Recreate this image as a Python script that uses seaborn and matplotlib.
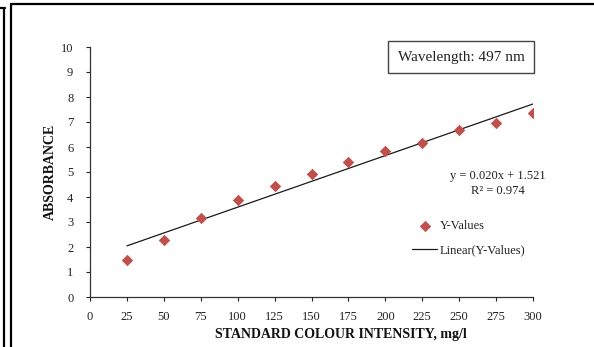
import numpy as np
import pandas as pd
import seaborn as sns
import matplotlib
matplotlib.use("Agg")
import matplotlib.pyplot as plt
from matplotlib.lines import Line2D

# Data
intensity = [25, 50, 75, 100, 125, 150, 175, 200, 225, 250, 275, 300]
absorbance = [1.48, 2.28, 3.15, 3.90, 4.45, 4.92, 5.39, 5.85, 6.17, 6.69, 6.97, 7.35]
x_ticks = [0, 25, 50, 75, 100, 125, 150, 175, 200, 225, 250, 275, 300]
y_ticks = list(range(0, 11))

df = pd.DataFrame({"x": intensity, "y": absorbance})

sns.set_theme(style="white")
plt.rcParams["font.family"] = ["Liberation Serif", "DejaVu Serif"]

W, H = 594, 347
fig = plt.figure(figsize=(W / 100, H / 100), dpi=100)
ax = fig.add_axes([90 / W, 1 - 297 / H, (533 - 90) / W, (297 - 47) / H])

sns.scatterplot(data=df, x="x", y="y", marker="D", s=34, color="#C0504D",
                edgecolor="#C0504D", linewidth=0, ax=ax, label="Y-Values", zorder=3)
sns.regplot(data=df, x="x", y="y", scatter=False, ci=None, ax=ax,
            line_kws={"color": "#1a1a1a", "linewidth": 0.9},
            label="Linear(Y-Values)")

ax.set_xlim(0, 300)
ax.set_ylim(0, 10)
ax.set_xticks(x_ticks)
ax.set_yticks(y_ticks)
ax.tick_params(axis="both", labelsize=9, colors="#222222", length=3, width=0.8,
               direction="out")
ax.tick_params(axis="y", pad=9, left=True)
ax.tick_params(axis="x", pad=7, bottom=True)
for s in ["top", "right"]:
    ax.spines[s].set_visible(False)
for s in ["left", "bottom"]:
    ax.spines[s].set_color("#333333")
    ax.spines[s].set_linewidth(0.9)

ax.set_xlabel("STANDARD COLOUR INTENSITY, mg/l", fontsize=10, fontweight="bold",
              color="#111111")
ax.set_ylabel("ABSORBANCE", fontsize=10, fontweight="bold", color="#111111")
ax.xaxis.set_label_coords((341 - 90) / 443, -(328 - 297) / 250)
ax.yaxis.set_label_coords(-(90 - 57) / 443, 0.5)

# equation
ax.text((498 - 90) / 443, (297 - 176) / 250, "y = 0.020x + 1.521",
        transform=ax.transAxes, ha="center", va="center", fontsize=9, color="#222222")
ax.text((498 - 90) / 443, (297 - 191) / 250, "R² = 0.974",
        transform=ax.transAxes, ha="center", va="center", fontsize=9, color="#222222")

# wavelength box
ax.text((461 - 90) / 443, (297 - 57) / 250, "Wavelength: 497 nm",
        transform=ax.transAxes, ha="center", va="center", fontsize=11, color="#222222",
        bbox=dict(boxstyle="square,pad=0.6", facecolor="white",
                  edgecolor="#444444", linewidth=1))

leg = ax.legend(loc="upper left", bbox_to_anchor=((412 - 90) / 443, (297 - 220) / 250),
                frameon=False, fontsize=9, borderpad=0, borderaxespad=0,
                handlelength=2.0, handletextpad=0.2, labelspacing=1.0)
for t in leg.get_texts():
    t.set_color("#222222")

# frame lines
def fline(x0, y0, x1, y1):
    fig.add_artist(Line2D([x0 / W, x1 / W], [1 - y0 / H, 1 - y1 / H],
                          transform=fig.transFigure, color="black", linewidth=1.6))

fline(4, 8, 4, H)
fline(0, 8, 5, 8)
fline(11, 4, 11, H)
fline(11, 4, W, 4)

fig.savefig("out.png", dpi=100)
